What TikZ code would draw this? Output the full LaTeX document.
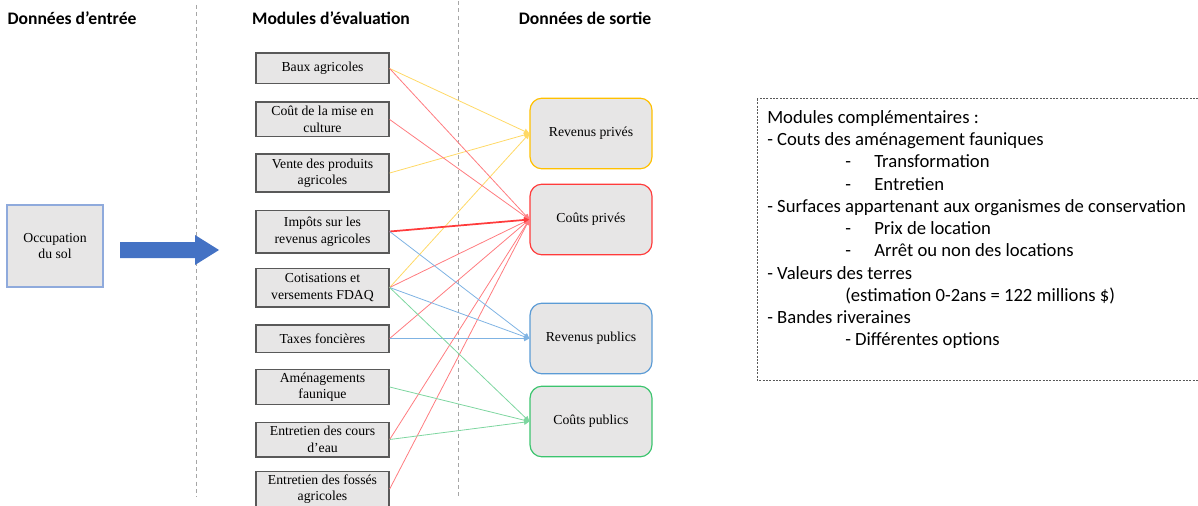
\documentclass[tikz,border=0pt]{standalone}
\usepackage{fontspec}
\setmainfont{Liberation Serif}
\newfontfamily\calibri{Carlito}
\usepackage{xcolor}
\usetikzlibrary{arrows.meta,positioning}

\definecolor{gris}{HTML}{E7E6E6}
\definecolor{bord}{HTML}{595959}
\definecolor{bleuocc}{HTML}{8FAADC}
\definecolor{fleche}{HTML}{4472C4}
\definecolor{or}{HTML}{FFC000}
\definecolor{orclair}{HTML}{FFD966}
\definecolor{rouge}{HTML}{FF3B3B}
\definecolor{rougeclair}{HTML}{FF7C80}
\definecolor{bleu}{HTML}{5B9BD5}
\definecolor{bleuclair}{HTML}{7FB3E3}
\definecolor{vert}{HTML}{3CC46E}
\definecolor{vertclair}{HTML}{7ED6A0}
\definecolor{tiret}{HTML}{A6A6A6}

\newcommand\puce{\hspace*{58.5pt}\makebox[21.75pt][l]{-}}
\newcommand\retrait{\hspace*{58.5pt}}

\begin{document}
\begin{tikzpicture}[x=0.75pt, y=-0.75pt,
    module/.style={draw=bord, line width=1pt, fill=gris, minimum width=99.75pt, minimum height=26pt, align=center, inner sep=1pt, font=\fontsize{10.3}{12.4}\selectfont},
    sortie/.style={rounded corners=9pt, line width=0.9pt, fill=gris, minimum width=91.5pt, minimum height=53pt, font=\fontsize{10.3}{12.4}\selectfont},
    titre/.style={font=\calibri\bfseries\fontsize{13.2}{15}\selectfont},
    lien/.style={-{Triangle[length=4pt,width=4pt]}, line width=0.6pt},
    separation/.style={tiret, line width=0.75pt, dash pattern=on 3pt off 2.5pt},
    cadre/.style={bord, line width=0.75pt, dash pattern=on 1.5pt off 1pt}]
    \useasboundingbox (0,0) rectangle (1198,506);
    \clip (0,0) rectangle (1198,506);

    % titres des colonnes
    \node[titre] (entree) at (72,18) {Données d’entrée};
    \node[titre] (evaluation) at (331,18) {Modules d’évaluation};
    \node[titre] (sortie) at (585,18) {Données de sortie};

    \draw[separation] (196,5) -- (196,497);
    \draw[separation] (458,1) -- (458,497);

    % données d'entrée
    \node[draw=bleuocc, line width=0.9pt, fill=gris, minimum width=72pt, minimum height=61.5pt, align=center, font=\fontsize{10.3}{12.4}\selectfont] (occupation) at (55,246) {Occupation\\du sol};
    \fill[fleche] (120,242) -- (195,242) -- (195,235) -- (219,250) -- (195,265) -- (195,258) -- (120,258) -- cycle;

    % modules d'évaluation
    \node[module, minimum height=23pt] (baux) at (322.5,68.5) {Baux agricoles};
    \node[module] (miseculture) at (322.5,119.5) {Coût de la mise en\\culture};
    \node[module, minimum height=28.5pt] (vente) at (322.5,173) {Vente des produits\\agricoles};
    \node[module, minimum height=32pt] (impots) at (322.5,231.5) {Impôts sur les\\revenus agricoles};
    \node[module, minimum height=29pt] (cotisations) at (322.5,287.5) {Cotisations et\\versements FDAQ};
    \node[module, minimum height=20.5pt] (taxes) at (322.5,338.5) {Taxes foncières};
    \node[module] (amenagements) at (322.5,387) {Aménagements\\faunique};
    \node[module] (coursdeau) at (322.5,439.5) {Entretien des cours\\d’eau};
    \node[module] (fosses) at (322.5,489) {Entretien des fossés\\agricoles};

    % données de sortie
    \node[sortie, draw=or] (revprives) at (591,133.5) {Revenus privés};
    \node[sortie, draw=rouge] (coutsprives) at (591,219.5) {Coûts privés};
    \node[sortie, draw=bleu] (revpublics) at (591,338.5) {Revenus publics};
    \node[sortie, draw=vert] (coutspublics) at (591,421.5) {Coûts publics};

    % revenus privés
    \draw[lien, orclair] (baux.east) -- (revprives.west);
    \draw[lien, orclair] (vente.east) -- (revprives.west);
    \draw[lien, orclair] (cotisations.east) -- (revprives.west);
    % coûts privés
    \draw[lien, rougeclair] (baux.east) -- (coutsprives.west);
    \draw[lien, rougeclair] (miseculture.east) -- (coutsprives.west);
    \draw[lien, rougeclair] (cotisations.east) -- (coutsprives.west);
    \draw[lien, rougeclair] (taxes.east) -- (coutsprives.west);
    \draw[lien, rougeclair] (coursdeau.east) -- (coutsprives.west);
    \draw[lien, rougeclair] (fosses.east) -- (coutsprives.west);
    \draw[lien, rouge, line width=1.3pt] (impots.east) -- (coutsprives.west);
    % revenus publics
    \draw[lien, bleuclair] (impots.east) -- (revpublics.west);
    \draw[lien, bleuclair] (cotisations.east) -- (revpublics.west);
    \draw[lien, bleuclair] (taxes.east) -- (revpublics.west);
    % coûts publics
    \draw[lien, vertclair] (cotisations.east) -- (coutspublics.west);
    \draw[lien, vertclair] (amenagements.east) -- (coutspublics.west);
    \draw[lien, vertclair] (coursdeau.east) -- (coutspublics.west);

    % modules complémentaires
    \draw[cadre] (757,99) rectangle (1210,380);
    \node[anchor=north west, inner sep=0pt, align=left, font=\calibri\fontsize{14}{16.7}\selectfont] (complements) at (767,110) {Modules complémentaires :\\
        - Couts des aménagement fauniques\\
        \puce Transformation\\
        \puce Entretien\\
        - Surfaces appartenant aux organismes de conservation\\
        \puce Prix de location\\
        \puce Arrêt ou non des locations\\
        - Valeurs des terres\\
        \retrait(estimation 0-2ans = 122 millions \$)\\
        - Bandes riveraines\\
        \retrait- Différentes options};
\end{tikzpicture}
\end{document}
